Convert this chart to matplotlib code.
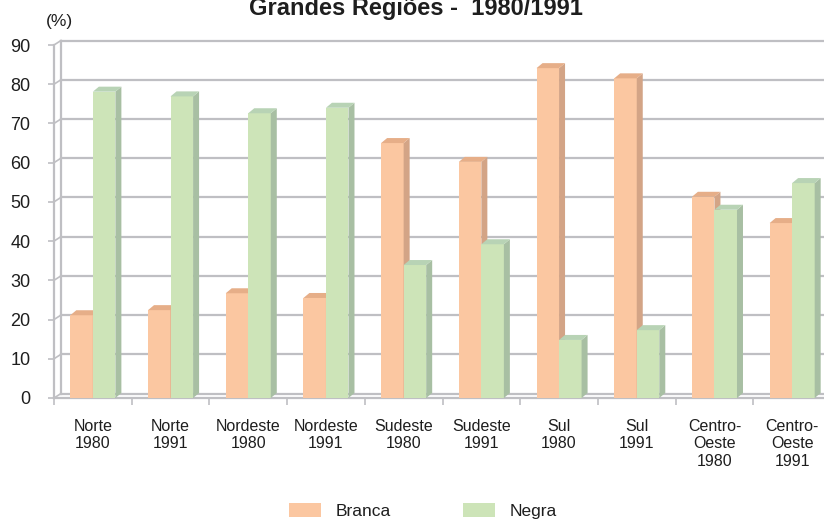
import matplotlib
matplotlib.use('Agg')
import matplotlib.pyplot as plt
from matplotlib.patches import Polygon, Patch

plt.rcParams['font.family'] = ['Liberation Sans', 'DejaVu Sans']

# dados (%)
categorias = ['Norte\n1980', 'Norte\n1991', 'Nordeste\n1980', 'Nordeste\n1991',
              'Sudeste\n1980', 'Sudeste\n1991', 'Sul\n1980', 'Sul\n1991',
              'Centro-\nOeste\n1980', 'Centro-\nOeste\n1991']
branca = [21.1, 22.4, 26.7, 25.5, 65.0, 60.2, 84.1, 81.5, 51.3, 44.6]
negra = [78.1, 76.9, 72.6, 74.0, 33.9, 39.2, 14.8, 17.3, 48.0, 54.8]
yticks = list(range(0, 91, 10))
titulo = 'Grandes Regiões -  1980/1991'

cor_grade = '#bfbfc3'
cor_texto = '#1e1e1e'
cores_branca = ('#fbc7a1', '#e6ae88', '#d3a486')   # frente, topo, lado
cores_negra = ('#cde4b8', '#b8d3b5', '#a8bfa3')

W, H = 824, 519
fig = plt.figure(figsize=(W / 100, H / 100), dpi=100)
ax = fig.add_axes([54 / W, 1 - 398 / H, 777 / W, 353 / H])
n = len(categorias)
ax.set_xlim(0, n)
ax.set_ylim(0, 90)
for s in ax.spines.values():
    s.set_visible(False)
ax.patch.set_visible(False)

# pixels por unidade de dado
ux = ax.bbox.width / n
uy = ax.bbox.height / 90
# profundidade da parede e das barras
wdx, wdy = 7 / ux, 4.5 / uy
bdx, bdy = 6 / ux, 5 / uy

# parede do fundo / piso
for y in yticks:
    ax.plot([wdx, n + wdx], [y + wdy, y + wdy], color=cor_grade, lw=1.6, zorder=1, clip_on=False)
    ax.plot([0, wdx], [y, y + wdy], color=cor_grade, lw=1.2, zorder=1, clip_on=False)
ax.plot([wdx, wdx], [wdy, 90 + wdy], color=cor_grade, lw=1.6, zorder=1, clip_on=False)
ax.plot([0, 0], [0, 90], color=cor_grade, lw=1.6, zorder=1, clip_on=False)
ax.plot([0, n], [0, 0], color=cor_grade, lw=1.6, zorder=1, clip_on=False)


def barra(x, v, w, cores, z):
    ax.bar(x, v, width=w, align='edge', color=cores[0], lw=0, zorder=z)
    lado = [(x + w, 0), (x + w + bdx, bdy), (x + w + bdx, v + bdy), (x + w, v)]
    topo = [(x, v), (x + w, v), (x + w + bdx, v + bdy), (x + bdx, v + bdy)]
    ax.add_patch(Polygon(lado, closed=True, fc=cores[2], lw=0, zorder=z, clip_on=False))
    ax.add_patch(Polygon(topo, closed=True, fc=cores[1], lw=0, zorder=z, clip_on=False))


w = 0.29
for i in range(n):
    c = i + 0.5
    barra(c - w, branca[i], w, cores_branca, 3)
    barra(c, negra[i], w, cores_negra, 4)

ax.set_xticks(range(n + 1))
ax.set_xticklabels([])
ax.set_xticks([i + 0.5 for i in range(n)], minor=True)
ax.set_xticklabels(categorias, minor=True, fontsize=11.5, color=cor_texto)
ax.tick_params(axis='x', which='major', length=5, width=1.2, color=cor_grade, direction='out')
ax.tick_params(axis='x', which='minor', length=0, pad=15)
ax.set_yticks(yticks)
ax.tick_params(axis='y', length=4, width=1.2, color=cor_grade, pad=13, labelsize=13, labelcolor=cor_texto)

fig.text(59 / W, 1 - 22 / H, '(%)', ha='center', va='center', fontsize=12.5, color=cor_texto)
fig.text(416 / W, 1 - 15 / H, titulo, ha='center', va='baseline', fontsize=17,
         fontweight='bold', color=cor_texto)

alcas = [Patch(fc=cores_branca[0], lw=0, label='Branca'),
         Patch(fc=cores_negra[0], lw=0, label='Negra')]
fig.legend(handles=alcas, loc='center', bbox_to_anchor=(423 / W, 1 - 511 / H), ncol=2,
           frameon=False, fontsize=12.5, handlelength=1.8, handleheight=0.9,
           handletextpad=0.85, columnspacing=4.2, labelcolor=cor_texto)

fig.savefig('out.png', dpi=100)
